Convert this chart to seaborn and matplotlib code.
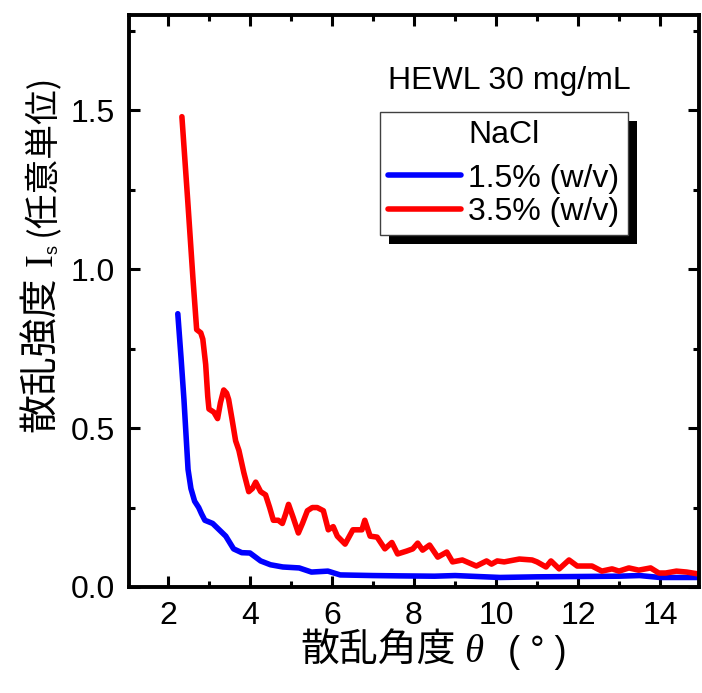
import numpy as np
import pandas as pd
import seaborn as sns
import matplotlib
matplotlib.use("Agg")
import matplotlib.pyplot as plt
from matplotlib.ticker import MultipleLocator, FixedLocator
from matplotlib.patches import Rectangle

# ---------------- data ----------------
angle_low = [2.24, 2.32, 2.39, 2.49, 2.56, 2.65, 2.75, 2.82, 2.90, 3.09, 3.25,
             3.41, 3.60, 3.80, 4.00, 4.26, 4.50, 4.80, 5.20, 5.50, 5.90, 6.20,
             7.00, 7.66, 8.50, 9.00, 10.10, 11.00, 12.00, 13.00, 13.50, 14.00,
             14.94]
intensity_low = [0.86, 0.72, 0.59, 0.37, 0.31, 0.27, 0.25, 0.23, 0.21, 0.20, 0.18,
                 0.16, 0.12, 0.108, 0.107, 0.082, 0.070, 0.063, 0.060, 0.047, 0.050, 0.038,
                 0.036, 0.035, 0.034, 0.036, 0.030, 0.032, 0.033, 0.034, 0.036, 0.030,
                 0.030]

angle_high = [2.34, 2.48, 2.61, 2.70, 2.80, 2.85, 2.92, 2.97, 3.00, 3.12, 3.21,
              3.28, 3.36, 3.43, 3.48, 3.56, 3.65, 3.73, 3.85, 3.97, 4.06, 4.14,
              4.26, 4.38, 4.48, 4.57, 4.69, 4.79, 4.87, 4.94, 5.05, 5.18, 5.28,
              5.40, 5.52, 5.64, 5.79, 5.91, 6.03, 6.13, 6.32, 6.51, 6.73, 6.80,
              6.93, 7.10, 7.29, 7.46, 7.60, 7.82, 7.97, 8.09, 8.21, 8.38, 8.58,
              8.80, 8.94, 9.18, 9.52, 9.77, 9.89, 10.03, 10.20, 10.57, 10.88, 11.00,
              11.22, 11.34, 11.54, 11.78, 11.98, 12.34, 12.58, 12.83, 13.00, 13.24,
              13.48, 13.77, 13.97, 14.14, 14.40, 14.65, 14.94]
intensity_high = [1.48, 1.22, 0.97, 0.81, 0.80, 0.78, 0.70, 0.60, 0.56, 0.55, 0.53,
                  0.58, 0.62, 0.61, 0.59, 0.53, 0.46, 0.43, 0.36, 0.30, 0.31, 0.33,
                  0.30, 0.29, 0.25, 0.21, 0.21, 0.20, 0.23, 0.26, 0.22, 0.17, 0.20,
                  0.24, 0.25, 0.25, 0.24, 0.18, 0.19, 0.16, 0.135, 0.18, 0.18, 0.21,
                  0.16, 0.157, 0.12, 0.14, 0.104, 0.113, 0.12, 0.138, 0.116, 0.132, 0.094,
                  0.11, 0.079, 0.085, 0.066, 0.082, 0.072, 0.082, 0.079, 0.088, 0.085, 0.079,
                  0.063, 0.082, 0.057, 0.085, 0.066, 0.066, 0.050, 0.057, 0.050, 0.060,
                  0.053, 0.060, 0.044, 0.044, 0.050, 0.047, 0.041]

series_labels = ["1.5% (w/v)", "3.5% (w/v)"]
series_colors = ["#0000FF", "#FF0000"]
legend_title = "NaCl"
annotation = "HEWL 30 mg/mL"
x_ticks = [2, 4, 6, 8, 10, 12, 14]
y_ticks = [0.0, 0.5, 1.0, 1.5]
y_tick_labels = ["0.0", "0.5", "1.0", "1.5"]

# ---------------- style ----------------
sns.set_theme(style="ticks")
plt.rcParams['font.family'] = ['Liberation Sans', 'DejaVu Sans']
plt.rcParams.update({
    'axes.linewidth': 2.8, 'axes.edgecolor': 'black', 'text.color': 'black',
    'axes.labelcolor': 'black', 'xtick.color': 'black', 'ytick.color': 'black',
    'xtick.labelcolor': 'black', 'ytick.labelcolor': 'black',
})

W, H = 702, 693
fig = plt.figure(figsize=(W / 100, H / 100), dpi=100)
fig.patch.set_facecolor('white')
ax_l, ax_r, ax_t, ax_b = 129, 699, 15, 587
ax = fig.add_axes([ax_l / W, 1 - ax_b / H, (ax_r - ax_l) / W, (ax_b - ax_t) / H])
ax.set_facecolor('white')

LW = 4.0
df_low = pd.DataFrame({"angle": angle_low, "intensity": intensity_low})
df_high = pd.DataFrame({"angle": angle_high, "intensity": intensity_high})
sns.lineplot(data=df_low, x="angle", y="intensity", color=series_colors[0],
             linewidth=LW, label=series_labels[0], ax=ax, estimator=None, sort=False)
sns.lineplot(data=df_high, x="angle", y="intensity", color=series_colors[1],
             linewidth=LW, label=series_labels[1], ax=ax, estimator=None, sort=False)
for ln in ax.get_lines():
    ln.set_solid_joinstyle('round')
    ln.set_solid_capstyle('round')

ax.set_xlim(1.05, 14.95)
ax.set_ylim(0, 1.8)
ax.xaxis.set_major_locator(FixedLocator(x_ticks))
ax.xaxis.set_minor_locator(MultipleLocator(1))
ax.yaxis.set_major_locator(FixedLocator(y_ticks))
ax.yaxis.set_minor_locator(MultipleLocator(0.25))
ax.set_yticklabels(y_tick_labels)
ax.tick_params(which='both', direction='in', top=True, right=True,
               labeltop=False, labelright=False, color='black', labelcolor='black')
ax.tick_params(which='major', length=8, width=2.2, labelsize=23, pad=10)
ax.tick_params(which='minor', length=4.5, width=2.2)
for lab in ax.get_xticklabels() + ax.get_yticklabels():
    lab.set_fontfamily(['Liberation Sans'])
ax.set_xlabel("")
ax.set_ylabel("")
for s in ax.spines.values():
    s.set_linewidth(2.8)
    s.set_color('black')

# annotation
ax.text((388 - ax_l) / (ax_r - ax_l), (ax_b - 89) / (ax_b - ax_t), annotation,
        transform=ax.transAxes, ha='left', va='baseline', fontsize=23,
        family=['Liberation Sans'], color='black')

# legend
leg = ax.legend(title=legend_title, loc='upper left',
                bbox_to_anchor=((380 - ax_l) / (ax_r - ax_l), (ax_b - 112) / (ax_b - ax_t)),
                borderaxespad=0, frameon=True, fancybox=False, framealpha=1,
                fontsize=23, title_fontsize=23, handlelength=2.3,
                handletextpad=0.22, borderpad=0.25, labelspacing=0.12)
leg.get_frame().set_edgecolor('#404040')
leg.get_frame().set_linewidth(1.0)
for t in leg.get_texts():
    t.set_fontfamily(['Liberation Sans'])
    t.set_color('black')
leg.get_title().set_fontfamily(['Liberation Sans'])
leg.get_title().set_color('black')
for ln in leg.get_lines():
    ln.set_linewidth(LW)
try:
    leg._legend_box.sep = 0.12 * 23 + 7
except Exception:
    pass

fig.canvas.draw()
renderer = fig.canvas.get_renderer()
bb = leg.get_frame().get_window_extent(renderer)
inv = fig.transFigure.inverted()
(x0, y0) = inv.transform((bb.x0 + 9, bb.y0 - 9))
(x1, y1) = inv.transform((bb.x1 + 9, bb.y1 - 9))
shadow = Rectangle((x0, y0), x1 - x0, y1 - y0, transform=fig.transFigure,
                   facecolor='black', edgecolor='none', zorder=4.5, clip_on=False)
ax.add_patch(shadow)

# ---------------- axis labels built from pieces ----------------
CJK = ['Noto Sans CJK JP', 'DejaVu Sans']


def chain_h(pieces, x_px, base_px):
    pos = x_px
    y = (H - base_px) / H
    for txt, kw, gap, dy in pieces:
        t = fig.text(pos / W, y + dy / H, txt, ha='left', va='baseline',
                     color='black', **kw)
        e = t.get_window_extent(renderer)
        pos = e.x1 + gap


def chain_v(pieces, base_x_px, y_bottom_px):
    pos = H - y_bottom_px
    for txt, kw, gap, dx in pieces:
        t = fig.text((base_x_px + dx) / W, pos / H, txt, rotation=90,
                     rotation_mode='anchor', ha='left', va='baseline',
                     color='black', **kw)
        e = t.get_window_extent(renderer)
        pos = e.y1 + gap


chain_h([
    ("散乱角度", dict(fontsize=28, family=CJK), 9, 0),
    ("θ", dict(fontsize=28, family=['Liberation Serif'], style='italic'), 24, 0),
    ("( ° )", dict(fontsize=26, family=['Liberation Sans']), 0, 0),
], 300, 662)

chain_v([
    ("散乱強度", dict(fontsize=28, family=CJK), 10, 0),
    ("I", dict(fontsize=28, family=['Liberation Serif']), 0, 0),
    ("s", dict(fontsize=13, family=['Liberation Sans']), 9, 5),
    ("(任意単位)", dict(fontsize=25, family=CJK), 0, 0),
], 52, 432)

fig.savefig("out.png", dpi=100, facecolor='white')
